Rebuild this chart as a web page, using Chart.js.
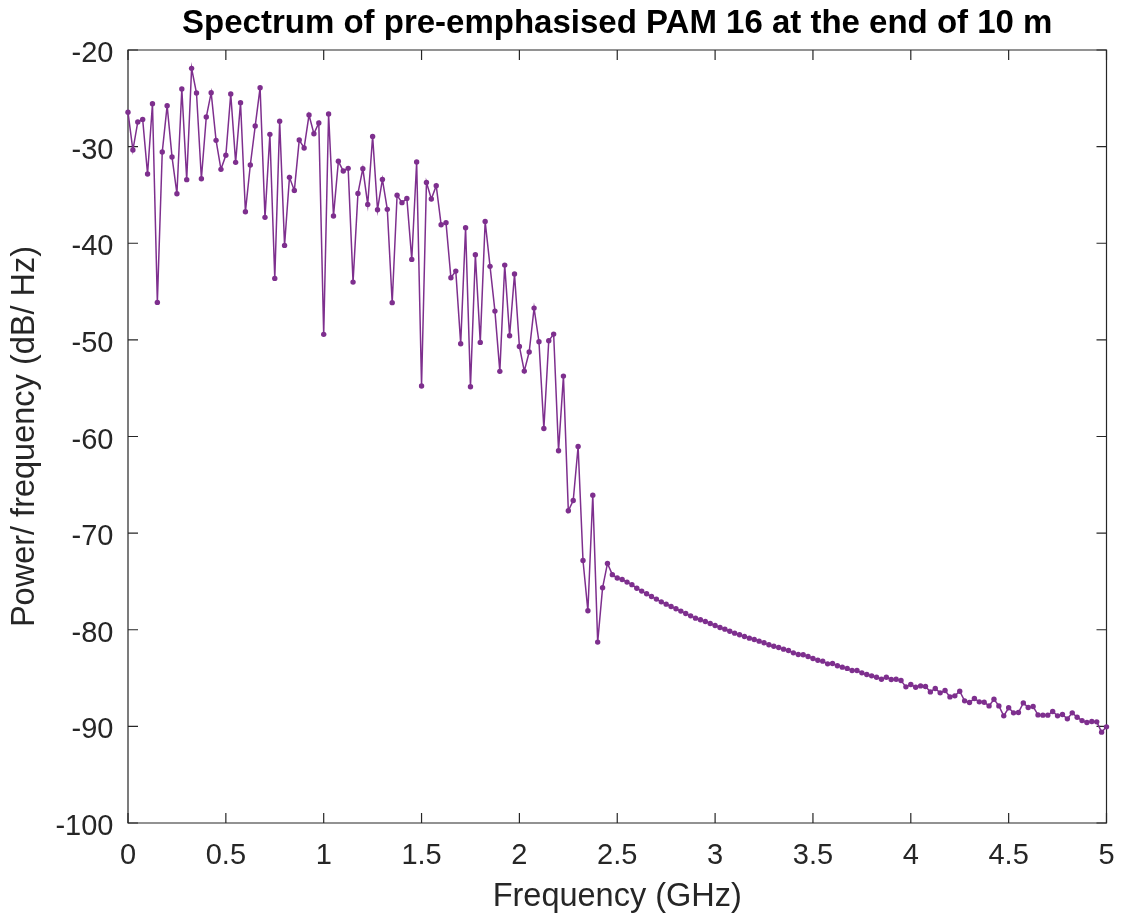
<!DOCTYPE html>
<html>
<head>
<meta charset="utf-8">
<script src="https://cdn.jsdelivr.net/npm/chart.js@4/dist/chart.umd.min.js"></script>
<style>
  html, body { margin: 0; padding: 0; background: #ffffff; overflow: hidden; }
  #wrap { width: 1121px; height: 917px; }
  canvas { display: block; }
</style>
</head>
<body>
<div id="wrap"><canvas id="c" width="1121" height="917"></canvas></div>
<script>
// ---- data ----
const chartTitle = 'Spectrum of pre-emphasised PAM 16 at the end of 10 m';
const xAxisTitle = 'Frequency (GHz)';
const yAxisTitle = 'Power/ frequency (dB/ Hz)';
const xTickLabels = ['0', '0.5', '1', '1.5', '2', '2.5', '3', '3.5', '4', '4.5', '5'];
const yTickLabels = ['-100', '-90', '-80', '-70', '-60', '-50', '-40', '-30', '-20'];
const freqStepGHz = 0.025;
const powerDb = [
  -26.45, -30.35, -27.45, -27.18, -32.84, -25.56, -46.12, -30.56, -25.76, -31.08,
  -34.87, -24.04, -33.42, -21.90, -24.45, -33.32, -26.94, -24.42, -29.35, -32.35,
  -30.90, -24.55, -31.63, -25.45, -36.74, -31.90, -27.87, -23.90, -37.32, -28.73,
  -43.64, -27.38, -40.22, -33.18, -34.53, -29.32, -30.14, -26.73, -28.66, -27.56,
  -49.43, -26.62, -37.18, -31.52, -32.53, -32.25, -44.02, -34.84, -32.28, -35.98,
  -28.94, -36.53, -33.39, -36.49, -46.15, -35.04, -35.80, -35.36, -41.67, -31.59,
  -54.78, -33.70, -35.42, -34.04, -38.08, -37.87, -43.57, -42.88, -50.40, -38.39,
  -54.85, -41.19, -50.26, -37.74, -42.39, -47.02, -53.26, -42.26, -49.57, -43.19,
  -50.68, -53.23, -51.26, -46.71, -50.19, -59.17, -50.09, -49.40, -61.48, -53.75,
  -67.69, -66.62, -61.03, -72.83, -78.04, -66.07, -81.28, -75.66, -73.14, -74.30,
  -74.64, -74.80, -75.07, -75.33, -75.71, -76.00, -76.28, -76.56, -76.83, -77.11,
  -77.35, -77.59, -77.83, -78.07, -78.32, -78.56, -78.80, -78.97, -79.14, -79.35,
  -79.56, -79.77, -79.94, -80.15, -80.35, -80.52, -80.70, -80.87, -81.01, -81.18,
  -81.35, -81.56, -81.70, -81.84, -82.01, -82.15, -82.39, -82.56, -82.59, -82.77,
  -82.97, -83.15, -83.25, -83.53, -83.49, -83.73, -83.87, -84.00, -84.22, -84.22,
  -84.46, -84.63, -84.77, -84.91, -85.12, -84.91, -85.15, -85.12, -85.26, -85.91,
  -85.67, -85.95, -85.81, -85.88, -86.43, -86.08, -86.53, -86.29, -86.95, -86.84,
  -86.36, -87.36, -87.53, -87.12, -87.46, -87.50, -87.88, -87.19, -87.88, -88.91,
  -88.08, -88.60, -88.57, -87.57, -88.05, -87.95, -88.81, -88.84, -88.84, -88.46,
  -88.91, -88.77, -89.22, -88.60, -89.05, -89.40, -89.60, -89.50, -89.53, -90.60,
  -90.05
];
const freqGHz = powerDb.map((_, i) => +(i * freqStepGHz).toFixed(3));

// ---- styling ----
const lineColor = '#7E2F8E';
const axisColor = '#262626';
const fontFamily = '"Liberation Sans", Arial, Helvetica, sans-serif';

const points = freqGHz.map((f, i) => ({ x: f, y: powerDb[i] }));

// frame + inward ticks on all four sides (MATLAB box style)
const boxPlugin = {
  id: 'boxPlugin',
  beforeDatasetsDraw(chart) {
    const { ctx, chartArea: a, scales } = chart;
    const tl = 10;
    ctx.save();
    ctx.strokeStyle = axisColor;
    ctx.lineWidth = 1.2;
    ctx.beginPath();
    ctx.rect(a.left, a.top, a.right - a.left, a.bottom - a.top);
    ctx.stroke();
    ctx.beginPath();
    scales.x.ticks.forEach(t => {
      const px = scales.x.getPixelForValue(t.value);
      ctx.moveTo(px, a.bottom); ctx.lineTo(px, a.bottom - tl);
      ctx.moveTo(px, a.top); ctx.lineTo(px, a.top + tl);
    });
    scales.y.ticks.forEach(t => {
      const py = scales.y.getPixelForValue(t.value);
      ctx.moveTo(a.left, py); ctx.lineTo(a.left + tl, py);
      ctx.moveTo(a.right, py); ctx.lineTo(a.right - tl, py);
    });
    ctx.stroke();
    ctx.restore();
  }
};

const bgPlugin = {
  id: 'bg',
  beforeDraw(chart) {
    const { ctx } = chart;
    ctx.save();
    ctx.fillStyle = '#ffffff';
    ctx.fillRect(0, 0, chart.width, chart.height);
    ctx.restore();
  }
};

new Chart(document.getElementById('c'), {
  type: 'line',
  data: {
    datasets: [{
      data: points,
      borderColor: lineColor,
      backgroundColor: lineColor,
      borderWidth: 1.5,
      pointRadius: 2.7,
      pointBorderWidth: 0,
      pointBackgroundColor: lineColor,
      tension: 0,
      fill: false,
      clip: false
    }]
  },
  options: {
    responsive: false,
    animation: false,
    devicePixelRatio: 1,
    layout: { padding: 0 },
    plugins: {
      legend: { display: false },
      tooltip: { enabled: false },
      title: {
        display: true,
        text: chartTitle,
        fullSize: false,
        color: '#000000',
        font: { family: fontFamily, size: 33, weight: 'bold', lineHeight: 1.2 },
        padding: { top: 4.5, bottom: 5.9 }
      }
    },
    scales: {
      x: {
        type: 'linear',
        min: 0,
        max: 5,
        grid: { display: false, drawTicks: false },
        border: { display: false },
        afterFit(scale) {
          scale.height = 94;
          scale.paddingLeft = 0;
          scale.paddingRight = 14.5;
        },
        ticks: {
          stepSize: 0.5,
          padding: 16,
          color: axisColor,
          maxRotation: 0,
          autoSkip: false,
          font: { family: fontFamily, size: 29 },
          callback: (v, i) => xTickLabels[i]
        },
        title: {
          display: true,
          text: xAxisTitle,
          color: axisColor,
          font: { family: fontFamily, size: 32.5, lineHeight: 1.2 },
          padding: { top: 0, bottom: 0.5 }
        }
      },
      y: {
        type: 'linear',
        min: -100,
        max: -20,
        grid: { display: false, drawTicks: false },
        border: { display: false },
        afterFit(scale) { scale.width = 128; },
        ticks: {
          stepSize: 10,
          padding: 14.5,
          labelOffset: 4,
          color: axisColor,
          autoSkip: false,
          font: { family: fontFamily, size: 29 },
          callback: (v, i) => yTickLabels[i]
        },
        title: {
          display: true,
          text: yAxisTitle,
          color: axisColor,
          font: { family: fontFamily, size: 32.5, lineHeight: 1.2 },
          padding: { top: 6, bottom: 0 }
        }
      }
    }
  },
  plugins: [bgPlugin, boxPlugin]
});
</script>
</body>
</html>
